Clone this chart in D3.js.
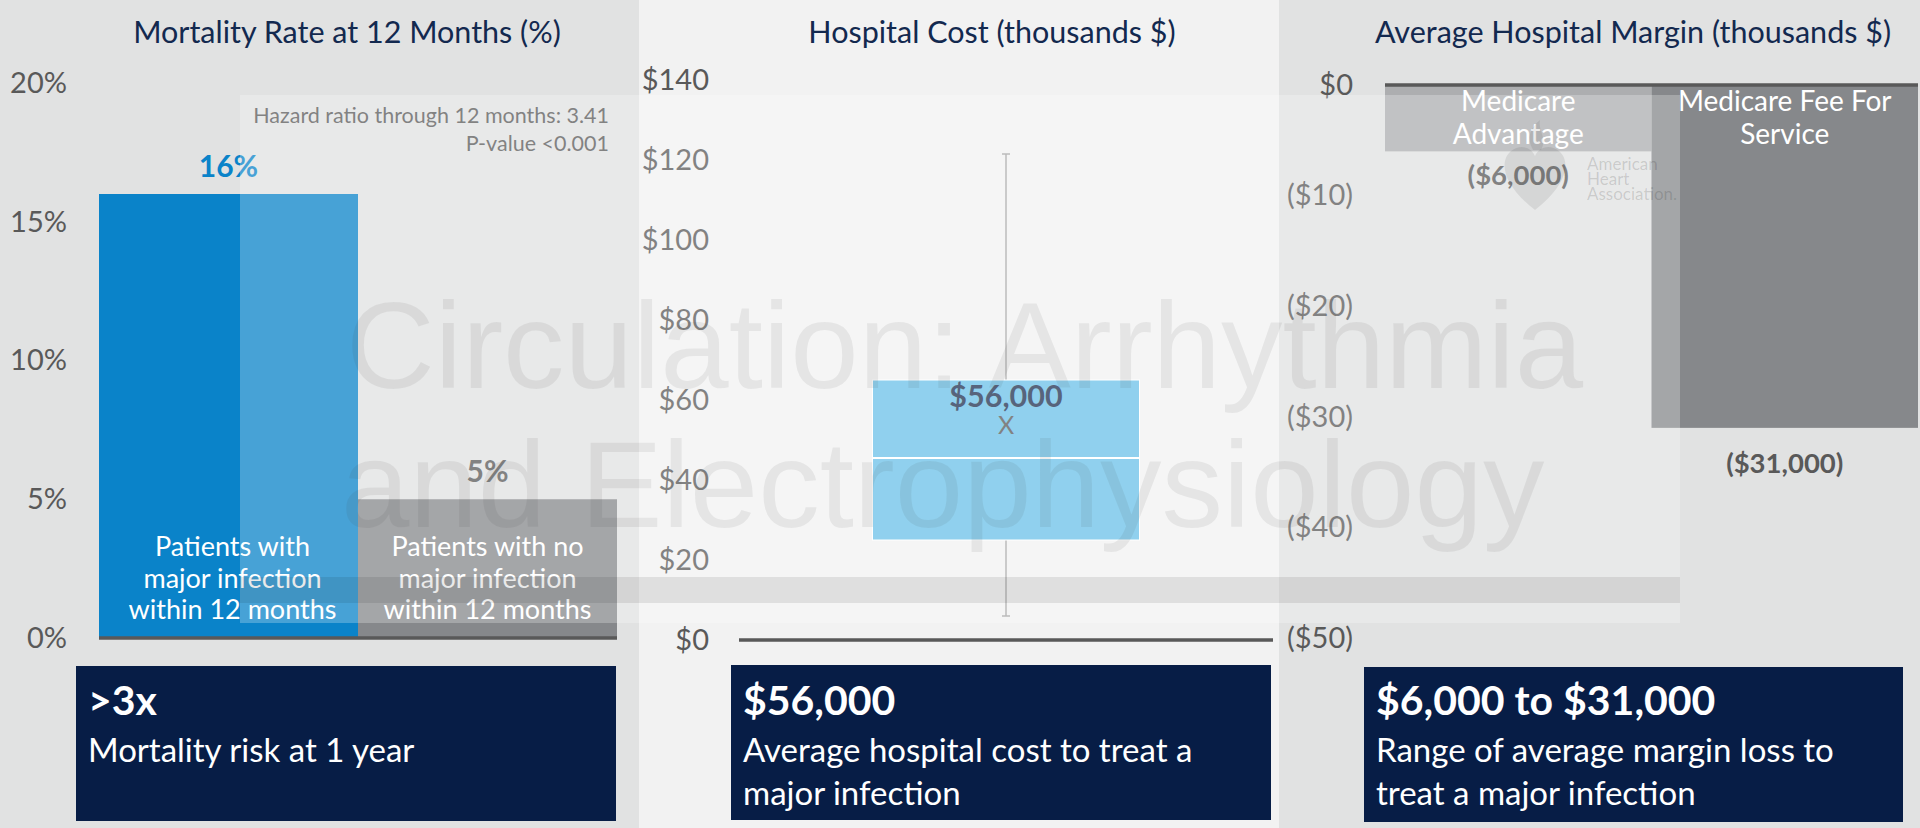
<!DOCTYPE html>
<html>
<head>
<meta charset="utf-8">
<script src="https://cdn.jsdelivr.net/npm/d3@7"></script>
<style>
  body { margin: 0; background: #e1e2e2; }
  svg { display: block; font-family: Lato, "Open Sans", sans-serif; }
  .tick text { font-size: 29px; fill: #595959; font-family: Lato, sans-serif; }
</style>
</head>
<body>
<div id="chart"></div>
<script>
// mortality panel (%)
var mortalityLabels = [["Patients with", "major infection", "within 12 months"],
                       ["Patients with no", "major infection", "within 12 months"]];
var mortalityValues = [16, 5];
var mortalityTicks = [0, 5, 10, 15, 20];
var hazardNotes = ["Hazard ratio through 12 months: 3.41", "P-value <0.001"];

// hospital cost panel (thousands $): whisker low, q1, median, q3, whisker high
var costCategories = ["Major infection"];
var costStats = [6, 25, 45.5, 65, 121.5];
var costMean = 56;
var costTicks = [0, 20, 40, 60, 80, 100, 120, 140];

// hospital margin panel (thousands $)
var marginLabels = [["Medicare", "Advantage"], ["Medicare Fee For", "Service"]];
var marginValues = [-6, -31];
var marginTicks = [0, -10, -20, -30, -40, -50];

var panelTitles = ["Mortality Rate at 12 Months (%)", "Hospital Cost (thousands $)", "Average Hospital Margin (thousands $)"];
var summaryHeads = [">3x", "$56,000", "$6,000 to $31,000"];
var summaryLines = [["Mortality risk at 1 year"],
                    ["Average hospital cost to treat a", "major infection"],
                    ["Range of average margin loss to", "treat a major infection"]];

var W = 1920, H = 828;
var dollars = d3.format("$,");

var svg = d3.select("#chart").append("svg")
  .attr("width", W)
  .attr("height", H);

// panel backgrounds
var panels = [
  { x0: 0, x1: 639, bg: "#e1e2e2", titleX: 347, box: [76, 616], boxY: 666 },
  { x0: 639, x1: 1279, bg: "#f2f2f2", titleX: 992, box: [731, 1271], boxY: 665 },
  { x0: 1279, x1: 1920, bg: "#e1e2e2", titleX: 1633, box: [1364, 1903], boxY: 667 }
];

svg.selectAll("rect.bg")
  .data(panels)
  .enter().append("rect")
  .attr("class", "bg")
  .attr("x", function(d) { return d.x0; })
  .attr("y", 0)
  .attr("width", function(d) { return d.x1 - d.x0; })
  .attr("height", H)
  .style("fill", function(d) { return d.bg; });

function noDomain(g) { g.select(".domain").remove(); }

// ---------- panel 1: mortality bars ----------
var x1 = d3.scaleBand().domain(d3.range(mortalityValues.length)).range([99, 617]).padding(0);
var y1 = d3.scaleLinear().domain([0, 20]).range([638, 83]);
var mortColors = ["#0a83c9", "#86888b"];

svg.selectAll("rect.mort")
  .data(mortalityValues)
  .enter().append("rect")
  .attr("class", "mort")
  .attr("x", function(d, i) { return x1(i); })
  .attr("y", function(d) { return y1(d); })
  .attr("width", x1.bandwidth())
  .attr("height", function(d) { return y1(0) - y1(d); })
  .style("fill", function(d, i) { return mortColors[i]; });

svg.selectAll("text.mortval")
  .data(mortalityValues)
  .enter().append("text")
  .attr("class", "mortval")
  .attr("x", function(d, i) { return x1(i) + x1.bandwidth() / 2; })
  .attr("y", function(d) { return y1(d) - 17; })
  .style("text-anchor", "middle")
  .style("font-size", "30px")
  .style("font-weight", "bold")
  .style("fill", function(d, i) { return i === 0 ? "#0a83c9" : "#595959"; })
  .text(function(d) { return d + "%"; });

mortalityLabels.forEach(function(lines, i) {
  var cx = x1(i) + x1.bandwidth() / 2 + (i === 0 ? 4 : 0);
  svg.append("text")
    .attr("x", cx)
    .attr("y", y1(0) - 82)
    .style("text-anchor", "middle")
    .style("font-size", "27px")
    .style("fill", "#ffffff")
    .selectAll("tspan")
    .data(lines)
    .enter().append("tspan")
    .attr("x", cx)
    .attr("dy", function(d, j) { return j === 0 ? 0 : 31.5; })
    .text(function(d) { return d; });
});

svg.append("g")
  .attr("transform", "translate(99,0)")
  .call(d3.axisLeft(y1).tickValues(mortalityTicks).tickSize(0).tickPadding(32)
    .tickFormat(function(d) { return d + "%"; }))
  .call(noDomain);

svg.append("line")
  .attr("x1", x1.range()[0]).attr("x2", x1.range()[1])
  .attr("y1", y1(0)).attr("y2", y1(0))
  .style("stroke", "#595959").style("stroke-width", 3.5);

svg.selectAll("text.hazard")
  .data(hazardNotes)
  .enter().append("text")
  .attr("class", "hazard")
  .attr("x", 609)
  .attr("y", function(d, i) { return 123 + i * 28; })
  .style("text-anchor", "end")
  .style("font-size", "21.5px")
  .style("fill", "#595959")
  .text(function(d) { return d; });

// ---------- panel 2: hospital cost box plot ----------
var x2 = d3.scaleBand().domain(costCategories).range([739, 1273]).paddingInner(0).paddingOuter(0.5);
var y2 = d3.scaleLinear().domain([0, 140]).range([640, 80]);
var cx2 = x2(costCategories[0]) + x2.bandwidth() / 2;

svg.append("line")
  .attr("x1", cx2).attr("x2", cx2)
  .attr("y1", y2(costStats[0])).attr("y2", y2(costStats[4]))
  .style("stroke", "#a6a6a6").style("stroke-width", 1.5);

svg.selectAll("line.cap")
  .data([costStats[0], costStats[4]])
  .enter().append("line")
  .attr("class", "cap")
  .attr("x1", cx2 - 4).attr("x2", cx2 + 4)
  .attr("y1", function(d) { return y2(d); })
  .attr("y2", function(d) { return y2(d); })
  .style("stroke", "#a6a6a6").style("stroke-width", 1.5);

svg.append("rect")
  .attr("x", x2(costCategories[0]))
  .attr("y", y2(costStats[3]))
  .attr("width", x2.bandwidth())
  .attr("height", y2(costStats[1]) - y2(costStats[3]))
  .style("fill", "#6bc1e8")
  .style("stroke", "#ffffff")
  .style("stroke-width", 1);

svg.append("line")
  .attr("x1", x2(costCategories[0])).attr("x2", x2(costCategories[0]) + x2.bandwidth())
  .attr("y1", y2(costStats[2])).attr("y2", y2(costStats[2]))
  .style("stroke", "#ffffff").style("stroke-width", 2);

svg.append("text")
  .attr("x", cx2)
  .attr("y", y2(costMean) + 18)
  .style("text-anchor", "middle")
  .style("font-size", "25px")
  .style("fill", "#595959")
  .text("X");

svg.append("text")
  .attr("x", cx2)
  .attr("y", y2(costMean) - 9)
  .style("text-anchor", "middle")
  .style("font-size", "30.5px")
  .style("font-weight", "bold")
  .style("fill", "#1f3050")
  .text(dollars(costMean * 1000));

svg.append("g")
  .attr("transform", "translate(739,0)")
  .call(d3.axisLeft(y2).tickValues(costTicks).tickSize(0).tickPadding(30)
    .tickFormat(function(d) { return "$" + d; }))
  .call(noDomain);

svg.append("line")
  .attr("x1", x2.range()[0]).attr("x2", x2.range()[1])
  .attr("y1", y2(0)).attr("y2", y2(0))
  .style("stroke", "#595959").style("stroke-width", 3.5);

// ---------- panel 3: hospital margin bars ----------
var x3 = d3.scaleBand().domain(d3.range(marginValues.length)).range([1385, 1918]).padding(0);
var y3 = d3.scaleLinear().domain([-50, 0]).range([638, 85]);
var marginColors = ["#adaeb0", "#86888b"];

svg.selectAll("rect.margin")
  .data(marginValues)
  .enter().append("rect")
  .attr("class", "margin")
  .attr("x", function(d, i) { return x3(i); })
  .attr("y", y3(0))
  .attr("width", x3.bandwidth())
  .attr("height", function(d) { return y3(d) - y3(0); })
  .style("fill", function(d, i) { return marginColors[i]; });

marginLabels.forEach(function(lines, i) {
  svg.append("text")
    .attr("x", x3(i) + x3.bandwidth() / 2)
    .attr("y", y3(0) + 26)
    .style("text-anchor", "middle")
    .style("font-size", "28px")
    .style("fill", "#ffffff")
    .selectAll("tspan")
    .data(lines)
    .enter().append("tspan")
    .attr("x", x3(i) + x3.bandwidth() / 2)
    .attr("dy", function(d, j) { return j === 0 ? 0 : 33; })
    .text(function(d) { return d; });
});

svg.selectAll("text.marginval")
  .data(marginValues)
  .enter().append("text")
  .attr("class", "marginval")
  .attr("x", function(d, i) { return x3(i) + x3.bandwidth() / 2; })
  .attr("y", function(d, i) { return y3(d) + (i === 0 ? 34 : 45); })
  .style("text-anchor", "middle")
  .style("font-size", "27.5px")
  .style("font-weight", "bold")
  .style("fill", "#595959")
  .text(function(d) { return "(" + dollars(-d * 1000) + ")"; });

svg.append("g")
  .attr("transform", "translate(1385,0)")
  .call(d3.axisLeft(y3).tickValues(marginTicks).tickSize(0).tickPadding(32)
    .tickFormat(function(d) { return d === 0 ? "$0" : "($" + (-d) + ")"; }))
  .call(noDomain);

svg.append("line")
  .attr("x1", x3.range()[0]).attr("x2", x3.range()[1])
  .attr("y1", y3(0)).attr("y2", y3(0))
  .style("stroke", "#595959").style("stroke-width", 3.5);

// ---------- journal watermark and overlays ----------
var wm = svg.append("g")
  .style("font-family", "'Liberation Sans', Arial, sans-serif")
  .style("font-size", "123px")
  .style("fill", "#000")
  .style("fill-opacity", 0.09);
wm.append("text").attr("x", 346).attr("y", 388).text("Circulation: Arrhythmia");
wm.append("text").attr("x", 341).attr("y", 527).text("and Electrophysiology");

svg.append("rect")
  .attr("x", 240).attr("y", 95)
  .attr("width", 1440).attr("height", 528)
  .style("fill", "#ffffff").style("fill-opacity", 0.25);

svg.append("rect")
  .attr("x", 240).attr("y", 577)
  .attr("width", 1440).attr("height", 26)
  .style("fill", "#000").style("fill-opacity", 0.085);

// faint society logo
var logo = svg.append("g").style("fill", "#000");
logo.append("path")
  .style("fill-opacity", 0.08)
  .attr("d", "M1535 210 C1504 186 1498 162 1511 151 C1521 143 1532 148 1535 156 C1538 148 1549 143 1559 151 C1572 162 1566 186 1535 210 Z");
logo.append("path")
  .style("fill-opacity", 0.08)
  .attr("d", "M1533 150 C1526 138 1530 128 1540 120 C1538 132 1548 138 1541 150 Z");
logo.selectAll("text")
  .data(["American", "Heart", "Association."])
  .enter().append("text")
  .attr("x", 1587)
  .attr("y", function(d, i) { return 170 + i * 15; })
  .style("font-size", "17px")
  .style("fill-opacity", 0.14)
  .text(function(d) { return d; });

// ---------- titles ----------
svg.selectAll("text.title")
  .data(panelTitles)
  .enter().append("text")
  .attr("class", "title")
  .attr("x", function(d, i) { return panels[i].titleX; })
  .attr("y", 43)
  .style("text-anchor", "middle")
  .style("font-size", "30.5px")
  .style("fill", "#13294f")
  .text(function(d) { return d; });

// ---------- summary boxes ----------
panels.forEach(function(p, i) {
  var g = svg.append("g");
  g.append("rect")
    .attr("x", p.box[0]).attr("y", p.boxY)
    .attr("width", p.box[1] - p.box[0]).attr("height", 155)
    .style("fill", "#071d46");
  g.append("text")
    .attr("x", p.box[0] + 12).attr("y", 715)
    .style("font-size", "41px").style("font-weight", "bold").style("fill", "#fff")
    .text(summaryHeads[i]);
  g.selectAll("text.sub")
    .data(summaryLines[i])
    .enter().append("text")
    .attr("class", "sub")
    .attr("x", p.box[0] + 12)
    .attr("y", function(d, j) { return 762 + j * 43; })
    .style("font-size", "33px").style("fill", "#fff")
    .text(function(d) { return d; });
});
</script>
</body>
</html>
